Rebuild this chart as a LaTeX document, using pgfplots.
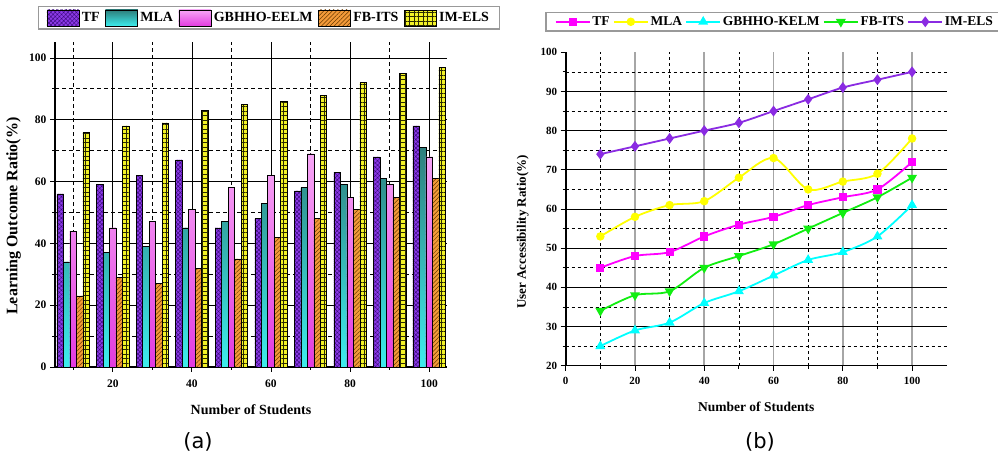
\documentclass[border=0pt]{standalone}
\usepackage{pgfplots}
\pgfplotsset{compat=1.18}
\usetikzlibrary{patterns,patterns.meta}
\usepackage{fontspec}
\setmainfont{Liberation Serif}
\newfontfamily\capfont{DejaVu Sans}
\definecolor{tfc}{HTML}{8B3AE6}
\definecolor{tfpat}{HTML}{3C0A80}
\definecolor{mlatop}{HTML}{2E7F7C}
\definecolor{mlabot}{HTML}{3DEDED}
\definecolor{mlapat}{HTML}{1A4A4A}
\definecolor{gbtop}{HTML}{F6A6F6}
\definecolor{gbbot}{HTML}{E23BE0}
\definecolor{gbpat}{HTML}{5A1060}
\definecolor{fbc}{HTML}{F39A3A}
\definecolor{fbpat}{HTML}{6A3A00}
\definecolor{imc}{HTML}{F2F227}
\definecolor{impat}{HTML}{2A2A00}
\definecolor{tfl}{HTML}{FF00FF}
\definecolor{mlal}{HTML}{FFFF00}
\definecolor{gbl}{HTML}{00FFFF}
\definecolor{fbl}{HTML}{11EE11}
\definecolor{iml}{HTML}{8A2BE2}
\pgfplotsset{
  barleg/.style={legend image code/.code={\draw[##1] (0pt,-8pt) rectangle (32pt,8pt);}},
  lineleg/.style={legend image code/.code={\draw[mark repeat=2,mark phase=2,##1] plot coordinates {(0pt,0pt) (17pt,0pt) (34pt,0pt)};}},
}
\begin{document}
\begin{tikzpicture}[x=1pt,y=1pt]
\useasboundingbox (0,0) rectangle (998,462);
\fill[white] (0,0) rectangle (998,462);
% ---------------- (a) ----------------
\begin{axis}[
  at={(55pt,95pt)}, anchor=south west, scale only axis,
  width=392pt, height=324.5pt,
  xmin=5.4, xmax=104.5, ymin=0, ymax=105,
  axis x line*=bottom, axis y line*=left,
  axis line style={line width=1.6pt, black},
  tick align=outside, major tick length=5pt, minor tick length=3pt,
  tick style={black, line width=0.8pt},
  xtick={20,40,...,100}, minor xtick={10,30,...,90},
  ytick={0,20,...,100}, minor ytick={10,30,...,90},
  grid=both,
  major grid style={black, line width=0.7pt},
  minor grid style={black, line width=0.7pt, dash pattern=on 4pt off 3pt},
  tick label style={font=\fontsize{11.5}{13}\selectfont\bfseries},
  /pgf/number format/assume math mode=true,
  xticklabel style={yshift=-4pt},
  xlabel={Number of Students}, ylabel={Learning Outcome Ratio(\%)},
  xlabel style={at={(axis description cs:0.5,-0.1325)}, anchor=center, font=\fontsize{14}{16}\selectfont\bfseries},
  ylabel style={at={(axis description cs:-0.1059,0.465)}, anchor=center, font=\fontsize{16}{18}\selectfont\bfseries},
  legend columns=5,
  legend style={at={(-0.0434,1.1125)}, anchor=north west, draw=gray!80, line width=1.5pt,
    font=\fontsize{14}{16}\selectfont\bfseries, inner xsep=8pt, inner ysep=3pt,
    nodes={inner sep=2.6pt},
    /tikz/every even column/.append style={column sep=3pt}},
]
\addplot[ybar, bar width=1.64, bar shift=-3.28, draw=black, line width=0.5pt, fill=tfc,
  postaction={pattern={Hatch[angle=45,distance=3pt,line width=0.5pt]}, pattern color=tfpat}, barleg]
  coordinates {(10,56) (20,59) (30,62) (40,67) (50,45) (60,48) (70,57) (80,63) (90,68) (100,78)};
\addplot[ybar, bar width=1.64, bar shift=-1.64, draw=black, line width=0.5pt, top color=mlatop, bottom color=mlabot,
  postaction={pattern={Lines[angle=-45,distance=3pt,line width=0.5pt]}, pattern color=mlapat}, barleg]
  coordinates {(10,34) (20,37) (30,39) (40,45) (50,47) (60,53) (70,58) (80,59) (90,61) (100,71)};
\addplot[ybar, bar width=1.64, bar shift=0, draw=black, line width=0.5pt, top color=gbtop, bottom color=gbbot,
  postaction={pattern={Hatch[angle=45,distance=6pt,line width=0.5pt]}, pattern color=gbpat}, barleg]
  coordinates {(10,44) (20,45) (30,47) (40,51) (50,58) (60,62) (70,69) (80,55) (90,59) (100,68)};
\addplot[ybar, bar width=1.64, bar shift=1.64, draw=black, line width=0.5pt, fill=fbc,
  postaction={pattern={Lines[angle=45,distance=3pt,line width=0.5pt]}, pattern color=fbpat}, barleg]
  coordinates {(10,23) (20,29) (30,27) (40,32) (50,35) (60,42) (70,48) (80,51) (90,55) (100,61)};
\addplot[ybar, bar width=1.64, bar shift=3.28, draw=black, line width=0.5pt, fill=imc,
  postaction={pattern={Hatch[angle=0,distance=4.5pt,line width=0.5pt]}, pattern color=impat}, barleg]
  coordinates {(10,76) (20,78) (30,79) (40,83) (50,85) (60,86) (70,88) (80,92) (90,95) (100,97)};
\legend{TF,MLA,GBHHO-EELM,FB-ITS,IM-ELS}
\end{axis}
% ---------------- (b) ----------------
\begin{axis}[
  at={(565.7pt,96.3pt)}, anchor=south west, scale only axis,
  width=381pt, height=313.4pt,
  xmin=0, xmax=110, ymin=20, ymax=100,
  axis x line*=bottom, axis y line*=left,
  axis line style={line width=1.6pt, black},
  tick align=outside, major tick length=5pt, minor tick length=3pt,
  tick style={black, line width=0.8pt},
  xtick={0,20,...,100}, minor xtick={10,30,...,90},
  ytick={20,30,...,90}, minor ytick={25,35,...,95},
  extra y ticks={100}, extra y tick style={grid=none},
  grid=both,
  every major x grid/.style={gray!70, line width=1.8pt},
  every minor x grid/.style={black, line width=0.6pt, dash pattern=on 3pt off 3pt},
  every major y grid/.style={black, line width=0.8pt},
  every minor y grid/.style={black, line width=0.6pt, dash pattern=on 3pt off 3pt},
  tick label style={font=\fontsize{11}{13}\selectfont\bfseries},
  /pgf/number format/assume math mode=true,
  xticklabel style={yshift=-3pt},
  xlabel={Number of Students}, ylabel={User Accessibility Ratio(\%)},
  xlabel style={at={(axis description cs:0.5,-0.1308)}, anchor=center, font=\fontsize{13.5}{16}\selectfont\bfseries},
  ylabel style={at={(axis description cs:-0.1129,0.4266)}, anchor=center, font=\fontsize{13}{15}\selectfont\bfseries},
  legend columns=5,
  legend style={at={(-0.0543,1.1286)}, anchor=north west, draw=gray!80, line width=1.5pt,
    font=\fontsize{13.5}{16}\selectfont\bfseries, inner xsep=9pt, inner ysep=2pt,
    nodes={inner sep=1.8pt},
    /tikz/every even column/.append style={column sep=1.5pt}},
]
\addplot[smooth, line width=1.8pt, color=tfl, mark=square*, mark size=3.2pt, mark options={solid, fill=tfl, draw=tfl}, lineleg]
  coordinates {(10,45) (20,48) (30,49) (40,53) (50,56) (60,58) (70,61) (80,63) (90,65) (100,72)};
\addplot[smooth, line width=1.8pt, color=mlal, mark=*, mark size=3.3pt, mark options={solid, fill=mlal, draw=mlal}, lineleg]
  coordinates {(10,53) (20,58) (30,61) (40,62) (50,68) (60,73) (70,65) (80,67) (90,69) (100,78)};
\addplot[smooth, line width=1.8pt, color=gbl, mark=triangle*, mark size=4pt, mark options={solid, fill=gbl, draw=gbl}, lineleg]
  coordinates {(10,25) (20,29) (30,31) (40,36) (50,39) (60,43) (70,47) (80,49) (90,53) (100,61)};
\addplot[smooth, line width=1.8pt, color=fbl, mark=triangle*, mark size=4pt, mark options={solid, fill=fbl, draw=fbl, rotate=180}, lineleg]
  coordinates {(10,34) (20,38) (30,39) (40,45) (50,48) (60,51) (70,55) (80,59) (90,63) (100,68)};
\addplot[smooth, line width=1.8pt, color=iml, mark=diamond*, mark size=4pt, mark options={solid, fill=iml, draw=iml}, lineleg]
  coordinates {(10,74) (20,76) (30,78) (40,80) (50,82) (60,85) (70,88) (80,91) (90,93) (100,95)};
\legend{TF,MLA,GBHHO-KELM,FB-ITS,IM-ELS}
\end{axis}
\node[font=\capfont\fontsize{21}{24}\selectfont] at (198,20) {(a)};
\node[font=\capfont\fontsize{21}{24}\selectfont] at (760,20) {(b)};
\end{tikzpicture}
\end{document}
